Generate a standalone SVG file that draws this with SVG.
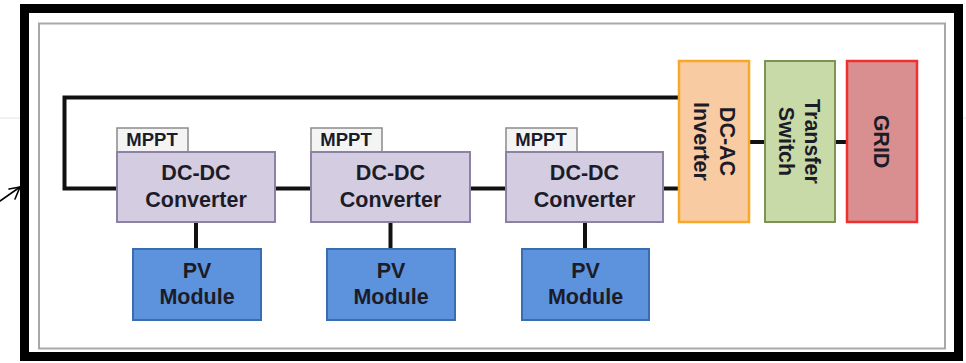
<svg xmlns="http://www.w3.org/2000/svg" width="966" height="363" viewBox="0 0 966 363">
  <style>
    .lbl { font-family: "Liberation Sans", Arial, sans-serif; font-weight: bold; fill: #1c1c28; text-anchor: middle; }
    .big { font-size: 21.5px; }
    .tab { font-size: 18.5px; }
    .wire { stroke: #111; stroke-width: 4; fill: none; }
    .conv { fill: #d4cce0; stroke: #8c82a5; stroke-width: 2; }
    .mppt { fill: #f4f4f4; stroke: #8a8a8a; stroke-width: 1.5; }
    .pv { fill: #5d93dc; stroke: #3a6cb0; stroke-width: 2; }
  </style>

  <rect x="0" y="0" width="966" height="363" fill="#ffffff"/>
  <!-- faint scan seam -->
  <line x1="0" y1="118" x2="966" y2="118" stroke="#e4e4e4" stroke-width="1"/>

  <!-- outer frame and inner border -->
  <rect x="24.5" y="8.5" width="934" height="348" fill="#ffffff" stroke="#000" stroke-width="9"/>
  <rect x="39" y="23.5" width="906" height="325" fill="none" stroke="#a8a8a8" stroke-width="2"/>

  <!-- pointer arrow -->
  <g id="pointer" stroke="#000" stroke-width="1.6" fill="none" stroke-linecap="round">
    <line x1="0" y1="201" x2="20" y2="187"/>
    <polyline points="9,189 20,187 15,199"/>
  </g>

  <!-- connectors -->
  <g id="connectors" class="wire">
    <polyline points="679,97.5 64.5,97.5 64.5,188.5 117,188.5"/>
    <line x1="275" y1="188.5" x2="311" y2="188.5"/>
    <line x1="470" y1="188.5" x2="506" y2="188.5"/>
    <line x1="663" y1="188.5" x2="679" y2="188.5"/>
    <line x1="196" y1="222" x2="196" y2="249"/>
    <line x1="390.5" y1="222" x2="390.5" y2="249"/>
    <line x1="585" y1="222" x2="585" y2="249"/>
    <line x1="749" y1="142" x2="765" y2="142"/>
    <line x1="835" y1="142" x2="847" y2="142"/>
  </g>

  <!-- converter chain -->
  <g id="converter1">
    <rect class="mppt" x="117" y="128" width="71" height="24"/>
    <text class="lbl tab" x="152" y="146">MPPT</text>
    <rect class="conv" x="117" y="152" width="158" height="70"/>
    <text class="lbl big" x="196" y="180">DC-DC</text>
    <text class="lbl big" x="196" y="206.5">Converter</text>
  </g>
  <g id="converter2">
    <rect class="mppt" x="311" y="128" width="71" height="24"/>
    <text class="lbl tab" x="346" y="146">MPPT</text>
    <rect class="conv" x="311" y="152" width="159" height="70"/>
    <text class="lbl big" x="390.5" y="180">DC-DC</text>
    <text class="lbl big" x="390.5" y="206.5">Converter</text>
  </g>
  <g id="converter3">
    <rect class="mppt" x="506" y="128" width="71" height="24"/>
    <text class="lbl tab" x="541" y="146">MPPT</text>
    <rect class="conv" x="506" y="152" width="157" height="70"/>
    <text class="lbl big" x="584.5" y="180">DC-DC</text>
    <text class="lbl big" x="584.5" y="206.5">Converter</text>
  </g>

  <!-- PV modules -->
  <g id="pv1">
    <rect class="pv" x="133" y="249" width="128" height="71"/>
    <text class="lbl big" x="197" y="278">PV</text>
    <text class="lbl big" x="197" y="303.5">Module</text>
  </g>
  <g id="pv2">
    <rect class="pv" x="327" y="249" width="128" height="71"/>
    <text class="lbl big" x="391" y="278">PV</text>
    <text class="lbl big" x="391" y="303.5">Module</text>
  </g>
  <g id="pv3">
    <rect class="pv" x="522" y="249" width="127" height="71"/>
    <text class="lbl big" x="585.5" y="278">PV</text>
    <text class="lbl big" x="585.5" y="303.5">Module</text>
  </g>

  <!-- AC side -->
  <g id="inverter">
    <rect x="679" y="61" width="70" height="161" fill="#f9cba3" stroke="#f7a826" stroke-width="2.5"/>
    <g transform="translate(714,141.5) rotate(90)">
      <text class="lbl big" x="0" y="-6">DC-AC</text>
      <text class="lbl big" x="0" y="20.5">Inverter</text>
    </g>
  </g>
  <g id="transfer-switch">
    <rect x="765" y="61" width="70" height="161" fill="#c8daa8" stroke="#7b9456" stroke-width="2"/>
    <g transform="translate(800,141.5) rotate(90)">
      <text class="lbl big" x="0" y="-5">Transfer</text>
      <text class="lbl big" x="0" y="21.5">Switch</text>
    </g>
  </g>
  <g id="grid">
    <rect x="847" y="61" width="70" height="161" fill="#d98f8f" stroke="#f03030" stroke-width="2.5"/>
    <g transform="translate(882,141.5) rotate(90)">
      <text class="lbl big" x="0" y="8.5">GRID</text>
    </g>
  </g>
</svg>
